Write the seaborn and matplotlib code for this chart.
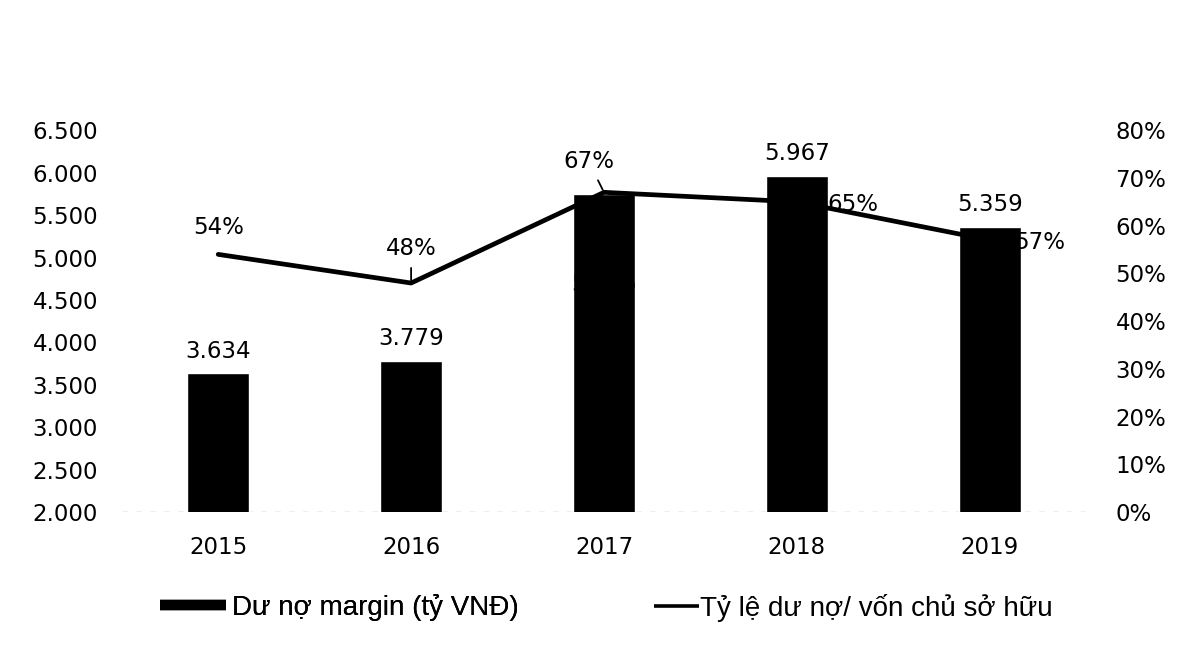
import numpy as np
import pandas as pd
import seaborn as sns
import matplotlib.pyplot as plt
from matplotlib.lines import Line2D

years = ["2015", "2016", "2017", "2018", "2019"]
margin_debt = [3634, 3779, 5745, 5967, 5359]
debt_ratio = [0.54, 0.48, 0.67, 0.65, 0.57]
margin_labels = ["3.634", "3.779", "5.745", "5.967", "5.359"]
ratio_labels = ["54%", "48%", "67%", "65%", "57%"]

sns.set_theme(style="white")
plt.rcParams['font.family'] = ['DejaVu Sans']
FS = 16.5

fig = plt.figure(figsize=(11.82, 6.45), dpi=100)
ax = fig.add_axes([0.103, 0.206, 0.816, 0.592])

df = pd.DataFrame({'year': years, 'margin': margin_debt})
sns.barplot(data=df, x='year', y='margin', color='black', width=0.32,
            saturation=1, ax=ax)
ax.set_ylim(2000, 6500)
ax.set_yticks(np.arange(2000, 6501, 500))
ax.set_yticklabels([f"{v:,}".replace(",", ".") for v in range(2000, 6501, 500)])
ax.set_xlabel("")
ax.set_ylabel("")
for s in ax.spines.values():
    s.set_visible(False)
ax.axhline(2000, color='#aaaaaa', lw=1, ls=(0, (4, 6)), zorder=0)
ax.tick_params(axis='x', length=0, labelsize=FS, colors='black', pad=17)
ax.tick_params(axis='y', length=0, labelsize=FS, colors='black', pad=17)

ax2 = ax.twinx()
sns.lineplot(x=np.arange(len(years)), y=debt_ratio, color='black', lw=3.4, ax=ax2)
ax2.set_ylim(0, 0.8)
ax2.set_yticks(np.arange(0, 0.81, 0.1))
ax2.set_yticklabels([f"{int(round(v * 100))}%" for v in np.arange(0, 0.81, 0.1)])
for s in ax2.spines.values():
    s.set_visible(False)
ax2.tick_params(axis='y', length=0, labelsize=FS, colors='black', pad=21)
ax.set_xlim(-0.5, 4.5)

# bar value labels
for i, (v, lab) in enumerate(zip(margin_debt, margin_labels)):
    if i == 2:
        # hidden inside the bar in the original
        ax.text(i, 4680, lab, ha='center', va='center', fontsize=FS, color='black')
    else:
        ax.annotate(lab, (i, v), xytext=(0, 16), textcoords='offset points',
                    ha='center', va='center', fontsize=FS, color='black')

# line value labels
offsets = [(0, 19), (0, 24.5), (-11, 22), (40, -2), (36, -2)]
for i, (v, lab) in enumerate(zip(debt_ratio, ratio_labels)):
    dx, dy = offsets[i]
    if i in (1, 2):
        ax2.annotate(lab, (i, v), xytext=(dx, dy), textcoords='offset points',
                     ha='center', va='center', fontsize=FS, color='black',
                     arrowprops=dict(arrowstyle='-', color='black', lw=1.3,
                                     shrinkA=3, shrinkB=2))
    else:
        ax2.annotate(lab, (i, v), xytext=(dx, dy), textcoords='offset points',
                     ha='center', va='center', fontsize=FS, color='black')

# legend, two pieces so each handle keeps its own length
leg_font = {'family': 'Liberation Sans', 'size': 20}
leg1 = fig.legend([Line2D([0], [0], color='black', lw=7.5, solid_capstyle='butt')],
                  ["Dư nợ margin (tỷ VNĐ)"], loc='center left',
                  bbox_to_anchor=(0.114, 0.058), frameon=False, prop=leg_font,
                  handlelength=2.4, handletextpad=0.2, labelcolor='black')
fig.legend([Line2D([0], [0], color='black', lw=2.6, solid_capstyle='butt')],
           ["Tỷ lệ dư nợ/ vốn chủ sở hữu"], loc='center left',
           bbox_to_anchor=(0.532, 0.058), frameon=False, prop=leg_font,
           handlelength=1.62, handletextpad=0.05, labelcolor='black')
fig.add_artist(leg1)

fig.savefig('out.png', dpi=100)
